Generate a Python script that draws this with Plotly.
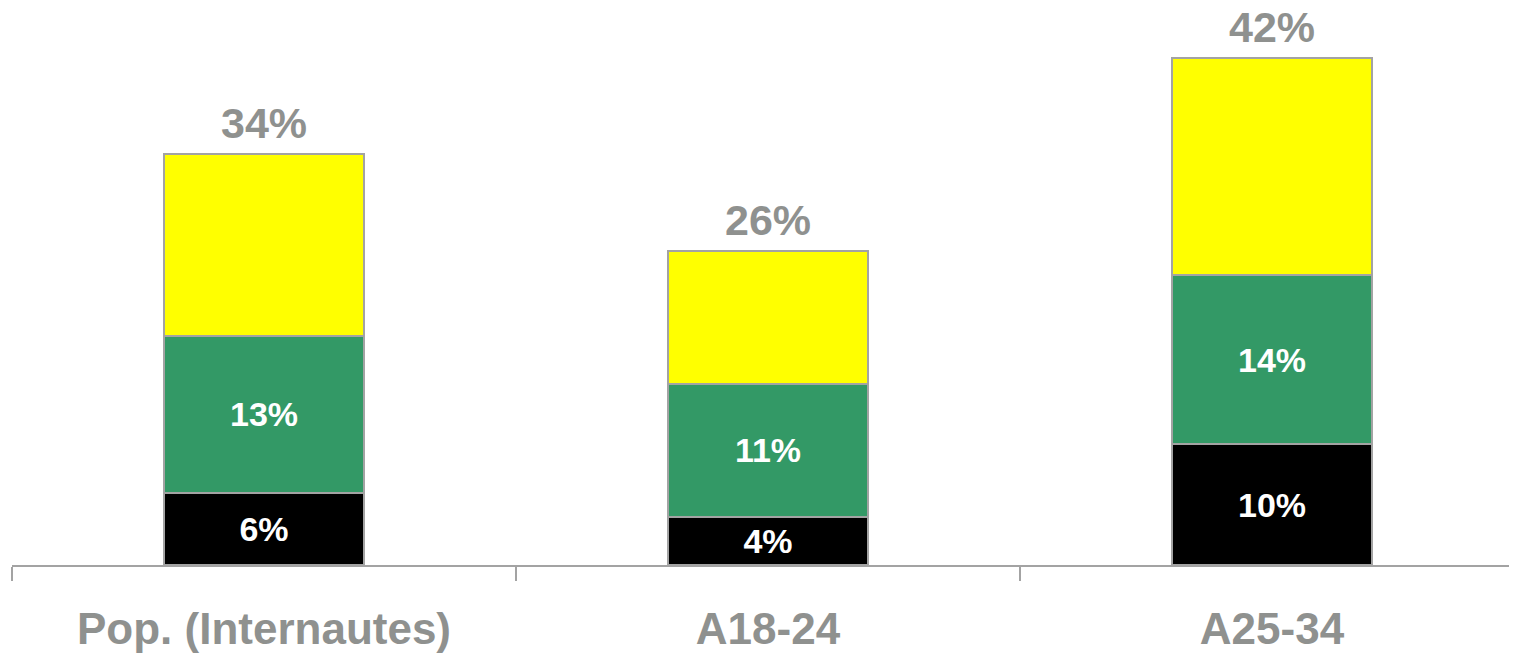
import plotly.graph_objects as go

# Data
categories = ["Pop. (Internautes)", "A18-24", "A25-34"]
black_vals = [6, 4, 10]
green_vals = [13, 11, 14]
yellow_vals = [15, 11, 18]
totals = [34, 26, 42]

GRAY = "#8f918f"
OUTLINE = "#a3a3a3"
FONT = "Liberation Sans, Arial, sans-serif"

fig = go.Figure()

segments = [
    (black_vals, "#000000", True),
    (green_vals, "#339966", True),
    (yellow_vals, "#ffff00", False),
]
for vals, color, labelled in segments:
    fig.add_trace(go.Bar(
        x=categories,
        y=vals,
        width=0.397,
        marker=dict(color=color, line=dict(color=OUTLINE, width=2)),
        text=[f"{v}%" for v in vals] if labelled else None,
        textposition="inside" if labelled else "none",
        insidetextanchor="middle",
        textangle=0,
        constraintext="none",
        textfont=dict(family=FONT, size=34, color="white", weight="bold"),
        hoverinfo="skip",
    ))

# Totals above the bars
for cat, tot in zip(categories, totals):
    fig.add_annotation(
        x=cat, y=tot, text=f"{tot}%",
        showarrow=False, yanchor="bottom", yshift=5,
        font=dict(family=FONT, size=43, color=GRAY, weight="bold"),
    )

fig.update_layout(
    barmode="stack",
    width=1509, height=645,
    margin=dict(l=4, r=0, t=0, b=80),
    plot_bgcolor="white",
    paper_bgcolor="white",
    showlegend=False,
    xaxis=dict(
        range=[-0.5, -0.5 + 1505 / 504],
        showline=True, linecolor=OUTLINE, linewidth=2,
        tickson="boundaries", ticks="outside", ticklen=14,
        tickcolor=OUTLINE, tickwidth=2,
        tickfont=dict(family=FONT, size=44, color=GRAY, weight="bold"),
        ticklabelstandoff=24,
        showgrid=False, zeroline=False,
    ),
    yaxis=dict(
        range=[0, 565 / 12.25],
        visible=False, showgrid=False, zeroline=False,
    ),
)

fig.write_html("out.html")
